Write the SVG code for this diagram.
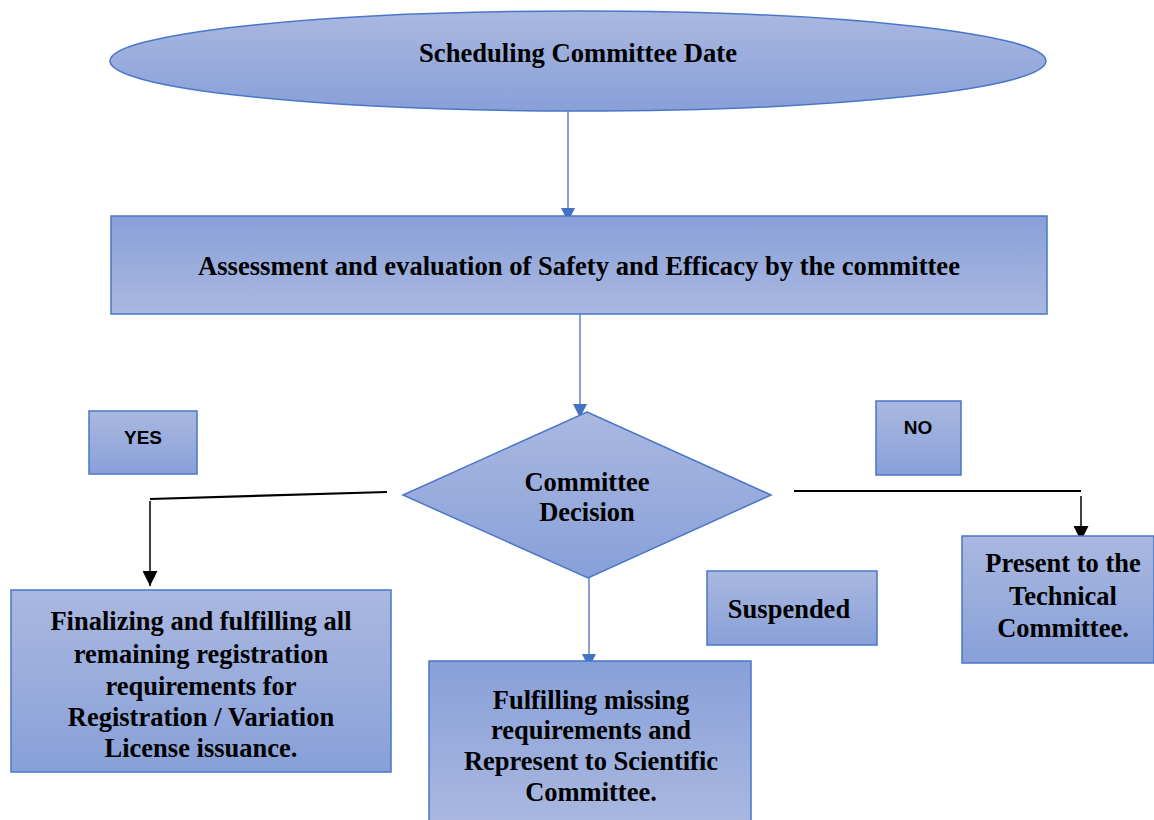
<svg xmlns="http://www.w3.org/2000/svg" width="1154" height="820" viewBox="0 0 1154 820">
<defs>
<linearGradient id="gDown" x1="0" y1="0" x2="0" y2="1">
<stop offset="0" stop-color="#aab8e1"/>
<stop offset="1" stop-color="#88a0d8"/>
</linearGradient>
<linearGradient id="gUp" x1="0" y1="0" x2="0" y2="1">
<stop offset="0" stop-color="#88a0d8"/>
<stop offset="1" stop-color="#aab8e1"/>
</linearGradient>
<marker id="arrBlue" viewBox="0 0 10 10" refX="10" refY="5" markerWidth="15" markerHeight="14" markerUnits="userSpaceOnUse" orient="auto">
<path d="M0,0 L10,5 L0,10 Z" fill="#4472c4"/>
</marker>
<marker id="arrBlack" viewBox="0 0 10 10" refX="10" refY="5" markerWidth="15" markerHeight="15" markerUnits="userSpaceOnUse" orient="auto">
<path d="M0,0 L10,5 L0,10 Z" fill="#000"/>
</marker>
</defs>
<style>
.box{stroke:#4a76c8;stroke-width:1.5}
.t{font-family:"Liberation Serif","Times New Roman",serif;font-weight:bold;fill:#000;text-anchor:middle;font-size:26.5px}
.s{font-family:"Liberation Sans",Arial,sans-serif;font-weight:bold;fill:#000;text-anchor:middle;font-size:19px}
.cb{stroke:#4472c4;stroke-width:1.3;fill:none}
.ck{stroke:#000;fill:none}
</style>
<rect width="1154" height="820" fill="#fff"/>
<g id="connectors">
<line class="cb" x1="568" y1="111" x2="568" y2="222" marker-end="url(#arrBlue)"/>
<line class="cb" x1="580" y1="312" x2="580" y2="418" marker-end="url(#arrBlue)"/>
<line class="cb" x1="589" y1="578" x2="589" y2="668" marker-end="url(#arrBlue)"/>
<line class="ck" stroke-width="2.2" x1="387" y1="492" x2="150" y2="499"/>
<line class="ck" stroke-width="1.5" x1="150" y1="501" x2="150" y2="586" marker-end="url(#arrBlack)"/>
<line class="ck" stroke-width="2.2" x1="794" y1="491" x2="1081" y2="491"/>
<line class="ck" stroke-width="1.5" x1="1081" y1="496" x2="1081" y2="541" marker-end="url(#arrBlack)"/>
</g>
<g id="scheduling">
<ellipse class="box" cx="578" cy="61" rx="468" ry="50" fill="url(#gDown)"/>
<text class="t" x="578" y="62" textLength="318" lengthAdjust="spacingAndGlyphs">Scheduling Committee Date</text>
</g>
<g id="assessment">
<rect class="box" x="111" y="216" width="936" height="98" fill="url(#gUp)"/>
<text class="t" x="579" y="275" textLength="762" lengthAdjust="spacingAndGlyphs">Assessment and evaluation of Safety and Efficacy by the committee</text>
</g>
<g id="yes">
<rect class="box" x="89" y="411" width="108" height="63" fill="url(#gDown)"/>
<text class="s" x="143" y="444">YES</text>
</g>
<g id="no">
<rect class="box" x="876" y="401" width="85" height="74" fill="url(#gDown)"/>
<text class="s" x="918" y="434">NO</text>
</g>
<g id="decision">
<polygon class="box" points="587,412 771,495 588,578 403,495" fill="url(#gDown)"/>
<text class="t" x="587" y="491">Committee</text>
<text class="t" x="587" y="521">Decision</text>
</g>
<g id="finalizing">
<rect class="box" x="11" y="590" width="380" height="182" fill="url(#gDown)"/>
<text class="t" x="201" y="630">Finalizing and fulfilling all</text>
<text class="t" x="201" y="663">remaining registration</text>
<text class="t" x="201" y="695">requirements for</text>
<text class="t" x="201" y="726">Registration / Variation</text>
<text class="t" x="201" y="757">License issuance.</text>
</g>
<g id="suspended">
<rect class="box" x="707" y="571" width="170" height="74" fill="url(#gDown)"/>
<text class="t" x="789" y="618">Suspended</text>
</g>
<g id="present">
<rect class="box" x="962" y="536" width="192" height="127" fill="url(#gDown)"/>
<text class="t" x="1063" y="572">Present to the</text>
<text class="t" x="1063" y="605">Technical</text>
<text class="t" x="1063" y="637">Committee.</text>
</g>
<g id="fulfilling">
<rect class="box" x="429" y="661" width="322" height="165" fill="url(#gUp)"/>
<text class="t" x="591" y="709">Fulfilling missing</text>
<text class="t" x="591" y="739">requirements and</text>
<text class="t" x="591" y="770">Represent to Scientific</text>
<text class="t" x="591" y="801">Committee.</text>
</g>
</svg>
